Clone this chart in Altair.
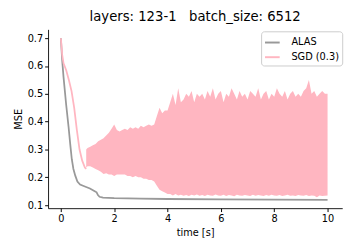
import altair as alt
import pandas as pd

# ALAS curve
alas_t = [0.0, 0.05, 0.1, 0.2, 0.29, 0.35, 0.41, 0.47, 0.54, 0.62, 0.72, 0.9, 1.09, 1.27, 1.34, 1.39, 1.45, 1.58, 2.0, 3.0, 4.0, 6.0, 8.0, 10.0]
alas_v = [0.70, 0.62, 0.56, 0.46, 0.38, 0.32, 0.265, 0.23, 0.206, 0.185, 0.174, 0.167, 0.16, 0.150, 0.146, 0.136, 0.130, 0.127, 0.125, 0.123, 0.122, 0.121, 0.120, 0.119]

# SGD initial descent
sgd_t = [0.0, 0.05, 0.1, 0.2, 0.3, 0.4, 0.5, 0.6, 0.7, 0.8, 0.9, 0.95]
sgd_v = [0.70, 0.64, 0.61, 0.585, 0.55, 0.51, 0.45, 0.37, 0.30, 0.26, 0.235, 0.23]

# SGD oscillation envelope
band_t = [0.95, 1.0, 1.1, 1.2, 1.3, 1.4, 1.5, 1.6, 1.7, 1.8, 1.9,
          2.0, 2.1, 2.2, 2.3, 2.4, 2.5, 2.6, 2.7, 2.8, 2.9,
          3.0, 3.1, 3.2, 3.3, 3.4, 3.5, 3.6, 3.7, 3.8, 3.9,
          4.0, 4.1, 4.2, 4.3, 4.4, 4.5, 4.6, 4.7, 4.8, 4.9,
          5.0, 5.1, 5.2, 5.3, 5.4, 5.5, 5.6, 5.7, 5.8, 5.9,
          6.0, 6.1, 6.2, 6.3, 6.4, 6.5, 6.6, 6.7, 6.8, 6.9,
          7.0, 7.1, 7.2, 7.3, 7.4, 7.5, 7.6, 7.7, 7.8, 7.9,
          8.0, 8.1, 8.2, 8.3, 8.4, 8.5, 8.6, 8.7, 8.8, 8.9,
          9.0, 9.1, 9.2, 9.3, 9.4, 9.5, 9.6, 9.7, 9.8, 9.9, 10.0]
band_hi = [0.30, 0.305, 0.31, 0.315, 0.32, 0.33, 0.335, 0.34, 0.35, 0.36, 0.375,
           0.39, 0.37, 0.365, 0.37, 0.375, 0.37, 0.38, 0.375, 0.38, 0.375,
           0.385, 0.38, 0.385, 0.39, 0.385, 0.39, 0.42, 0.45, 0.43, 0.44,
           0.44, 0.47, 0.50, 0.46, 0.52, 0.47, 0.48, 0.50, 0.49, 0.51,
           0.47, 0.50, 0.49, 0.50, 0.48, 0.51, 0.49, 0.52, 0.48, 0.50,
           0.51, 0.47, 0.50, 0.49, 0.52, 0.50, 0.48, 0.51, 0.49, 0.50,
           0.48, 0.51, 0.50, 0.49, 0.52, 0.48, 0.50, 0.51, 0.48, 0.50,
           0.49, 0.52, 0.50, 0.49, 0.51, 0.48, 0.50, 0.51, 0.49, 0.50,
           0.49, 0.51, 0.52, 0.55, 0.50, 0.51, 0.49, 0.50, 0.51, 0.50, 0.50]
band_lo = [0.235, 0.24, 0.24, 0.235, 0.23, 0.225, 0.22, 0.212, 0.215, 0.21, 0.21,
           0.205, 0.21, 0.21, 0.21, 0.21, 0.205, 0.205, 0.20, 0.205, 0.20,
           0.20, 0.195, 0.195, 0.19, 0.19, 0.185, 0.17, 0.155, 0.15, 0.145,
           0.14, 0.14, 0.135, 0.14, 0.135, 0.137, 0.134, 0.136, 0.133, 0.137,
           0.135, 0.138, 0.134, 0.136, 0.133, 0.137, 0.135, 0.134, 0.138, 0.135,
           0.134, 0.137, 0.133, 0.136, 0.135, 0.132, 0.137, 0.135, 0.134, 0.136,
           0.135, 0.133, 0.137, 0.134, 0.136, 0.135, 0.133, 0.136, 0.134, 0.137,
           0.135, 0.134, 0.136, 0.133, 0.135, 0.137, 0.134, 0.135, 0.133, 0.136,
           0.135, 0.134, 0.136, 0.133, 0.135, 0.134, 0.128, 0.135, 0.133, 0.134, 0.135]

series = ["ALAS", "SGD (0.3)"]
colors = ["#999999", "#FFB6C1"]

lines = pd.DataFrame(
    {"t": alas_t + sgd_t,
     "v": alas_v + sgd_v,
     "s": ["ALAS"] * len(alas_t) + ["SGD (0.3)"] * len(sgd_t)}
)
band = pd.DataFrame({"t": band_t, "hi": band_hi, "lo": band_lo})

xscale = alt.Scale(domain=[-0.48, 10.55], nice=False, zero=False)
yscale = alt.Scale(domain=[0.089, 0.732], nice=False, zero=False)

xaxis = alt.Axis(title="time [s]", values=[0, 2, 4, 6, 8, 10], format="d", grid=False)
yaxis = alt.Axis(title="MSE", values=[0.1, 0.2, 0.3, 0.4, 0.5, 0.6, 0.7], format=".1f", grid=False)

area = alt.Chart(band).mark_area(color="#FFB6C1", opacity=1).encode(
    x=alt.X("t:Q", scale=xscale, axis=xaxis),
    y=alt.Y("hi:Q", scale=yscale, axis=yaxis),
    y2="lo:Q",
)

line = alt.Chart(lines).mark_line(strokeWidth=1.8).encode(
    x=alt.X("t:Q", scale=xscale, axis=xaxis),
    y=alt.Y("v:Q", scale=yscale, axis=yaxis),
    color=alt.Color("s:N", scale=alt.Scale(domain=series, range=colors),
                    legend=alt.Legend(title=None, orient="none", legendX=218, legendY=2,
                                      symbolType="stroke", symbolStrokeWidth=2, symbolSize=225,
                                      labelFontSize=10, strokeColor="#cccccc", fillColor="white",
                                      padding=3, cornerRadius=3, rowPadding=1, labelOffset=11)),
    detail="s:N",
)

chart = alt.layer(line, area).properties(
    width=301, height=183,
    title=alt.TitleParams("layers: 123-1\u00a0\u00a0\u00a0batch_size: 6512", fontSize=13.5,
                          fontWeight="normal", font="DejaVu Sans", anchor="middle", offset=6),
    autosize=alt.AutoSizeParams(type="none"),
    padding={"left": 41, "top": 19, "right": 10, "bottom": 42},
).configure_view(stroke=None).configure_axis(
    labelFont="DejaVu Sans", titleFont="DejaVu Sans", labelFontSize=10, titleFontSize=10,
    titleFontWeight="normal", labelColor="#000000", titleColor="#000000",
    domainColor="#000000", tickColor="#000000", tickSize=3.5, domainWidth=0.9,
    labelPadding=2,
).configure_legend(labelFont="DejaVu Sans", labelColor="#000000")

chart.save("out.html", embed_options={"renderer": "svg", "actions": False})
